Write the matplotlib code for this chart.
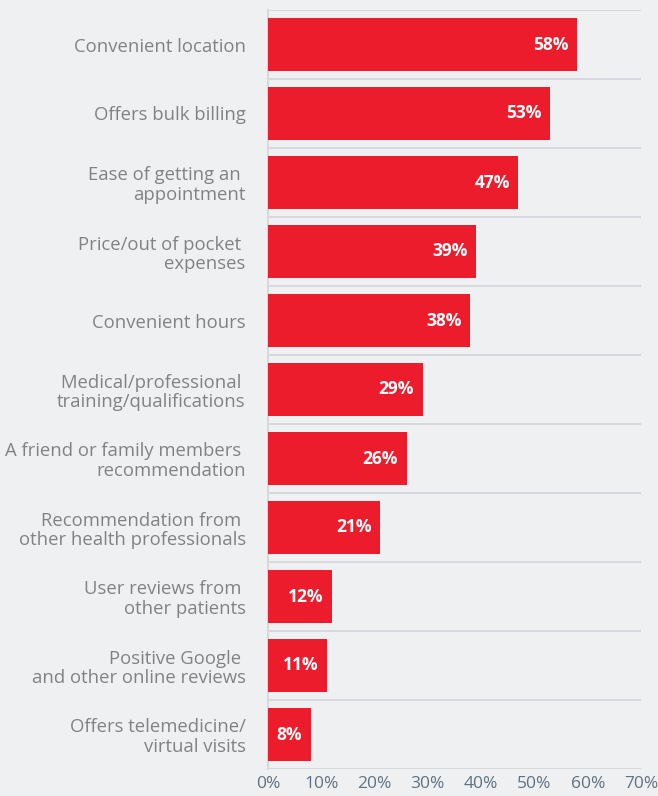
import matplotlib
matplotlib.use("Agg")
import matplotlib.pyplot as plt
from matplotlib.ticker import FixedLocator

categories = [
    "Convenient location",
    "Offers bulk billing",
    "Ease of getting an \nappointment",
    "Price/out of pocket \nexpenses",
    "Convenient hours",
    "Medical/professional \ntraining/qualifications",
    "A friend or family members \nrecommendation",
    "Recommendation from \nother health professionals",
    "User reviews from \nother patients",
    "Positive Google \nand other online reviews",
    "Offers telemedicine/\nvirtual visits",
]
values = [58, 53, 47, 39, 38, 29, 26, 21, 12, 11, 8]
x_ticks = [0, 10, 20, 30, 40, 50, 60, 70]

BG = "#eff0f2"
RED = "#ed1c2c"
GRID = "#d3d6da"

plt.rcParams["font.family"] = ["Open Sans", "DejaVu Sans"]

fig = plt.figure(figsize=(6.58, 7.96), dpi=100, facecolor=BG)
ax = fig.add_axes([268 / 658, 1 - 769 / 796, 373 / 658, 759 / 796], facecolor=BG)

y = list(range(len(categories)))
ax.barh(y, values, height=0.77, color=RED, zorder=3)

for yi, v in zip(y, values):
    ax.text(v - 1.6, yi, f"{v}%", ha="right", va="center", color="white",
            fontsize=12.5, fontweight="bold", zorder=4)

ax.set_xlim(0, 70)
ax.set_ylim(len(categories) - 0.5, -0.5)
ax.set_yticks(y)
ax.set_yticklabels(categories, fontsize=13.3, color="#808384", linespacing=1.1)
ax.yaxis.set_minor_locator(FixedLocator([i + 0.5 for i in range(-1, len(categories))]))
ax.grid(which="minor", axis="y", color=GRID, linewidth=1.3, zorder=1)
ax.tick_params(axis="y", which="both", length=0, pad=16)

ax.set_xticks(x_ticks)
ax.set_xticklabels([f"{t}%" for t in x_ticks], fontsize=12.5, color="#5d7282")
ax.tick_params(axis="x", length=0, pad=5)

for side in ["top", "right", "bottom"]:
    ax.spines[side].set_visible(False)
ax.spines["left"].set_color(GRID)
ax.spines["left"].set_linewidth(1.3)

fig.savefig("out.png", dpi=100, facecolor=BG)
